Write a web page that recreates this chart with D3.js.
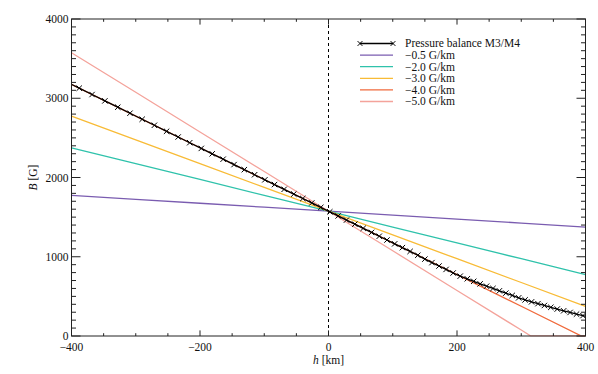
<!DOCTYPE html>
<html>
<head>
<meta charset="utf-8">
<script src="https://cdn.jsdelivr.net/npm/d3@7"></script>
<style>
  body { margin: 0; background: #fff; }
  svg text { font-family: "Liberation Serif", "Times New Roman", Times, serif; fill: #111; }
</style>
</head>
<body>
<div id="chart"></div>
<script>
// Pressure balance M3/M4 (h in km, B in G), one entry per marker
const balanceH = [-408, -388, -368, -348, -328, -309, -290, -271, -252, -234, -216, -198, -181, -164,
  -147, -131, -115, -99, -84, -69, -54, -40, -26, -12, 2, 15, 28, 41, 54, 67, 79, 91, 103, 115, 127,
  139, 150, 161, 172, 183, 194, 205, 216, 226, 236, 246, 256, 266, 276, 286, 296, 306, 316, 326, 336,
  346, 356, 366, 376, 386, 396, 406];
const balanceB = [3207, 3127, 3047, 2967, 2887, 2811, 2735, 2659, 2583, 2511, 2439, 2367, 2299, 2231,
  2163, 2099, 2035, 1971, 1911, 1851, 1791, 1735, 1679, 1623, 1567, 1515, 1463, 1411, 1359, 1307, 1259,
  1211, 1163, 1115, 1067, 1019, 970, 926, 883, 840, 795, 755, 722, 690, 658, 628, 600, 570, 541, 512,
  482, 456, 431, 408, 385, 362, 340, 318, 297, 276, 257, 238];

// linear gradient profiles through B0 at h = 0
const B0 = 1575;
const gradients = [-0.5, -2.0, -3.0, -4.0, -5.0];
const gradLabels = ["\u22120.5 G/km", "\u22122.0 G/km", "\u22123.0 G/km", "\u22124.0 G/km", "\u22125.0 G/km"];
const gradColors = ["#7a5cb0", "#2fc2ab", "#f8bb36", "#f06a3c", "#f4a39b"];
const gradH = [-400, -300, -200, -100, 0, 100, 200, 300, 400];

const xTicks = [-400, -200, 0, 200, 400];
const yTicks = [0, 1000, 2000, 3000, 4000];

(function () {
  const width = 598, height = 374;
  const pl = 71.5, pr = 585.5, pt = 19, pb = 336;
  const font = "'Liberation Serif', 'Times New Roman', serif";

  const svg = d3.select("#chart").append("svg")
    .attr("width", width).attr("height", height)
    .attr("font-family", font);

  const x = d3.scaleLinear().domain([-400, 400]).range([pl, pr]);
  const y = d3.scaleLinear().domain([0, 4000]).range([pb, pt]);

  svg.append("clipPath").attr("id", "clip")
    .append("rect").attr("x", pl).attr("y", pt - 1)
    .attr("width", pr - pl).attr("height", pb - pt + 1.5);

  const plot = svg.append("g").attr("clip-path", "url(#clip)");

  // zero line
  plot.append("line")
    .attr("x1", x(0)).attr("x2", x(0)).attr("y1", pt).attr("y2", pb)
    .attr("stroke", "#000").attr("stroke-width", 1).attr("stroke-dasharray", "3,3");

  // gradient lines, clamped at B = 0
  const line = d3.line().x(d => x(d[0])).y(d => y(d[1]));
  gradients.forEach((g, i) => {
    const pts = [];
    gradH.forEach((h, j) => {
      const b = B0 + g * h;
      if (j > 0) {
        const bp = B0 + g * gradH[j - 1];
        if (bp > 0 && b < 0) pts.push([-B0 / g, 0]);
      }
      pts.push([h, Math.max(0, b)]);
    });
    plot.append("path").datum(pts)
      .attr("d", line).attr("fill", "none")
      .attr("stroke", gradColors[i]).attr("stroke-width", 1.3);
  });

  // pressure balance curve
  const bal = balanceH.map((h, i) => [h, balanceB[i]]);
  plot.append("path").datum(bal)
    .attr("d", line).attr("fill", "none")
    .attr("stroke", "#000").attr("stroke-width", 1.3);

  const cross = (g, cx, cy, s) => {
    g.append("path")
      .attr("d", `M${cx - s},${cy - s}L${cx + s},${cy + s}M${cx - s},${cy + s}L${cx + s},${cy - s}`)
      .attr("stroke", "#000").attr("stroke-width", 1).attr("fill", "none");
  };
  bal.forEach(d => cross(plot, x(d[0]), y(d[1]), 2.7));

  // axes with IDL-style ticks
  const ax = svg.append("g");
  ax.append("rect").attr("x", pl).attr("y", pt)
    .attr("width", pr - pl).attr("height", pb - pt)
    .attr("fill", "none").attr("stroke", "#222").attr("stroke-width", 1);

  d3.range(-400, 401, 50).forEach(v => {
    const len = v % 200 === 0 ? 5.6 : 2.8;
    ax.append("line").attr("x1", x(v)).attr("x2", x(v)).attr("y1", pb).attr("y2", pb - len)
      .attr("stroke", "#222");
    ax.append("line").attr("x1", x(v)).attr("x2", x(v)).attr("y1", pt).attr("y2", pt + len)
      .attr("stroke", "#222");
  });
  d3.range(0, 4001, 100).forEach(v => {
    const len = v % 1000 === 0 ? 9 : 4.5;
    ax.append("line").attr("x1", pl).attr("x2", pl + len).attr("y1", y(v)).attr("y2", y(v))
      .attr("stroke", "#222");
    ax.append("line").attr("x1", pr).attr("x2", pr - len).attr("y1", y(v)).attr("y2", y(v))
      .attr("stroke", "#222");
  });

  ax.selectAll(".xt").data(xTicks).join("text")
    .attr("x", d => x(d)).attr("y", pb + 15)
    .attr("text-anchor", "middle").attr("font-size", 11.5)
    .text(d => d < 0 ? "\u2212" + Math.abs(d) : d);

  ax.selectAll(".yt").data(yTicks).join("text")
    .attr("x", pl - 3).attr("y", d => y(d) + 4)
    .attr("text-anchor", "end").attr("font-size", 11.5)
    .text(d => d);

  const xl = svg.append("text").attr("x", x(0)).attr("y", pb + 28)
    .attr("text-anchor", "middle").attr("font-size", 11.5);
  xl.append("tspan").attr("font-style", "italic").text("h");
  xl.append("tspan").text(" [km]");

  const yl = svg.append("text")
    .attr("transform", `translate(37,${(pt + pb) / 2}) rotate(-90)`)
    .attr("text-anchor", "middle").attr("font-size", 11.5);
  yl.append("tspan").attr("font-style", "italic").text("B");
  yl.append("tspan").text(" [G]");

  // legend
  const lg = svg.append("g");
  const lx0 = 360, lx1 = 393, ly0 = 43.5, dy = 11.6;
  lg.append("line").attr("x1", lx0).attr("x2", lx1).attr("y1", ly0).attr("y2", ly0)
    .attr("stroke", "#000").attr("stroke-width", 1.3);
  cross(lg, lx0, ly0, 2.4);
  cross(lg, lx1, ly0, 2.4);
  lg.append("text").attr("x", 405).attr("y", ly0 + 3.8).attr("font-size", 11.5)
    .text("Pressure balance M3/M4");
  gradLabels.forEach((t, i) => {
    const yy = ly0 + dy * (i + 1);
    lg.append("line").attr("x1", lx0).attr("x2", lx1).attr("y1", yy).attr("y2", yy)
      .attr("stroke", gradColors[i]).attr("stroke-width", 1.3);
    lg.append("text").attr("x", 405).attr("y", yy + 3.8).attr("font-size", 11.5).text(t);
  });
})();
</script>
</body>
</html>
